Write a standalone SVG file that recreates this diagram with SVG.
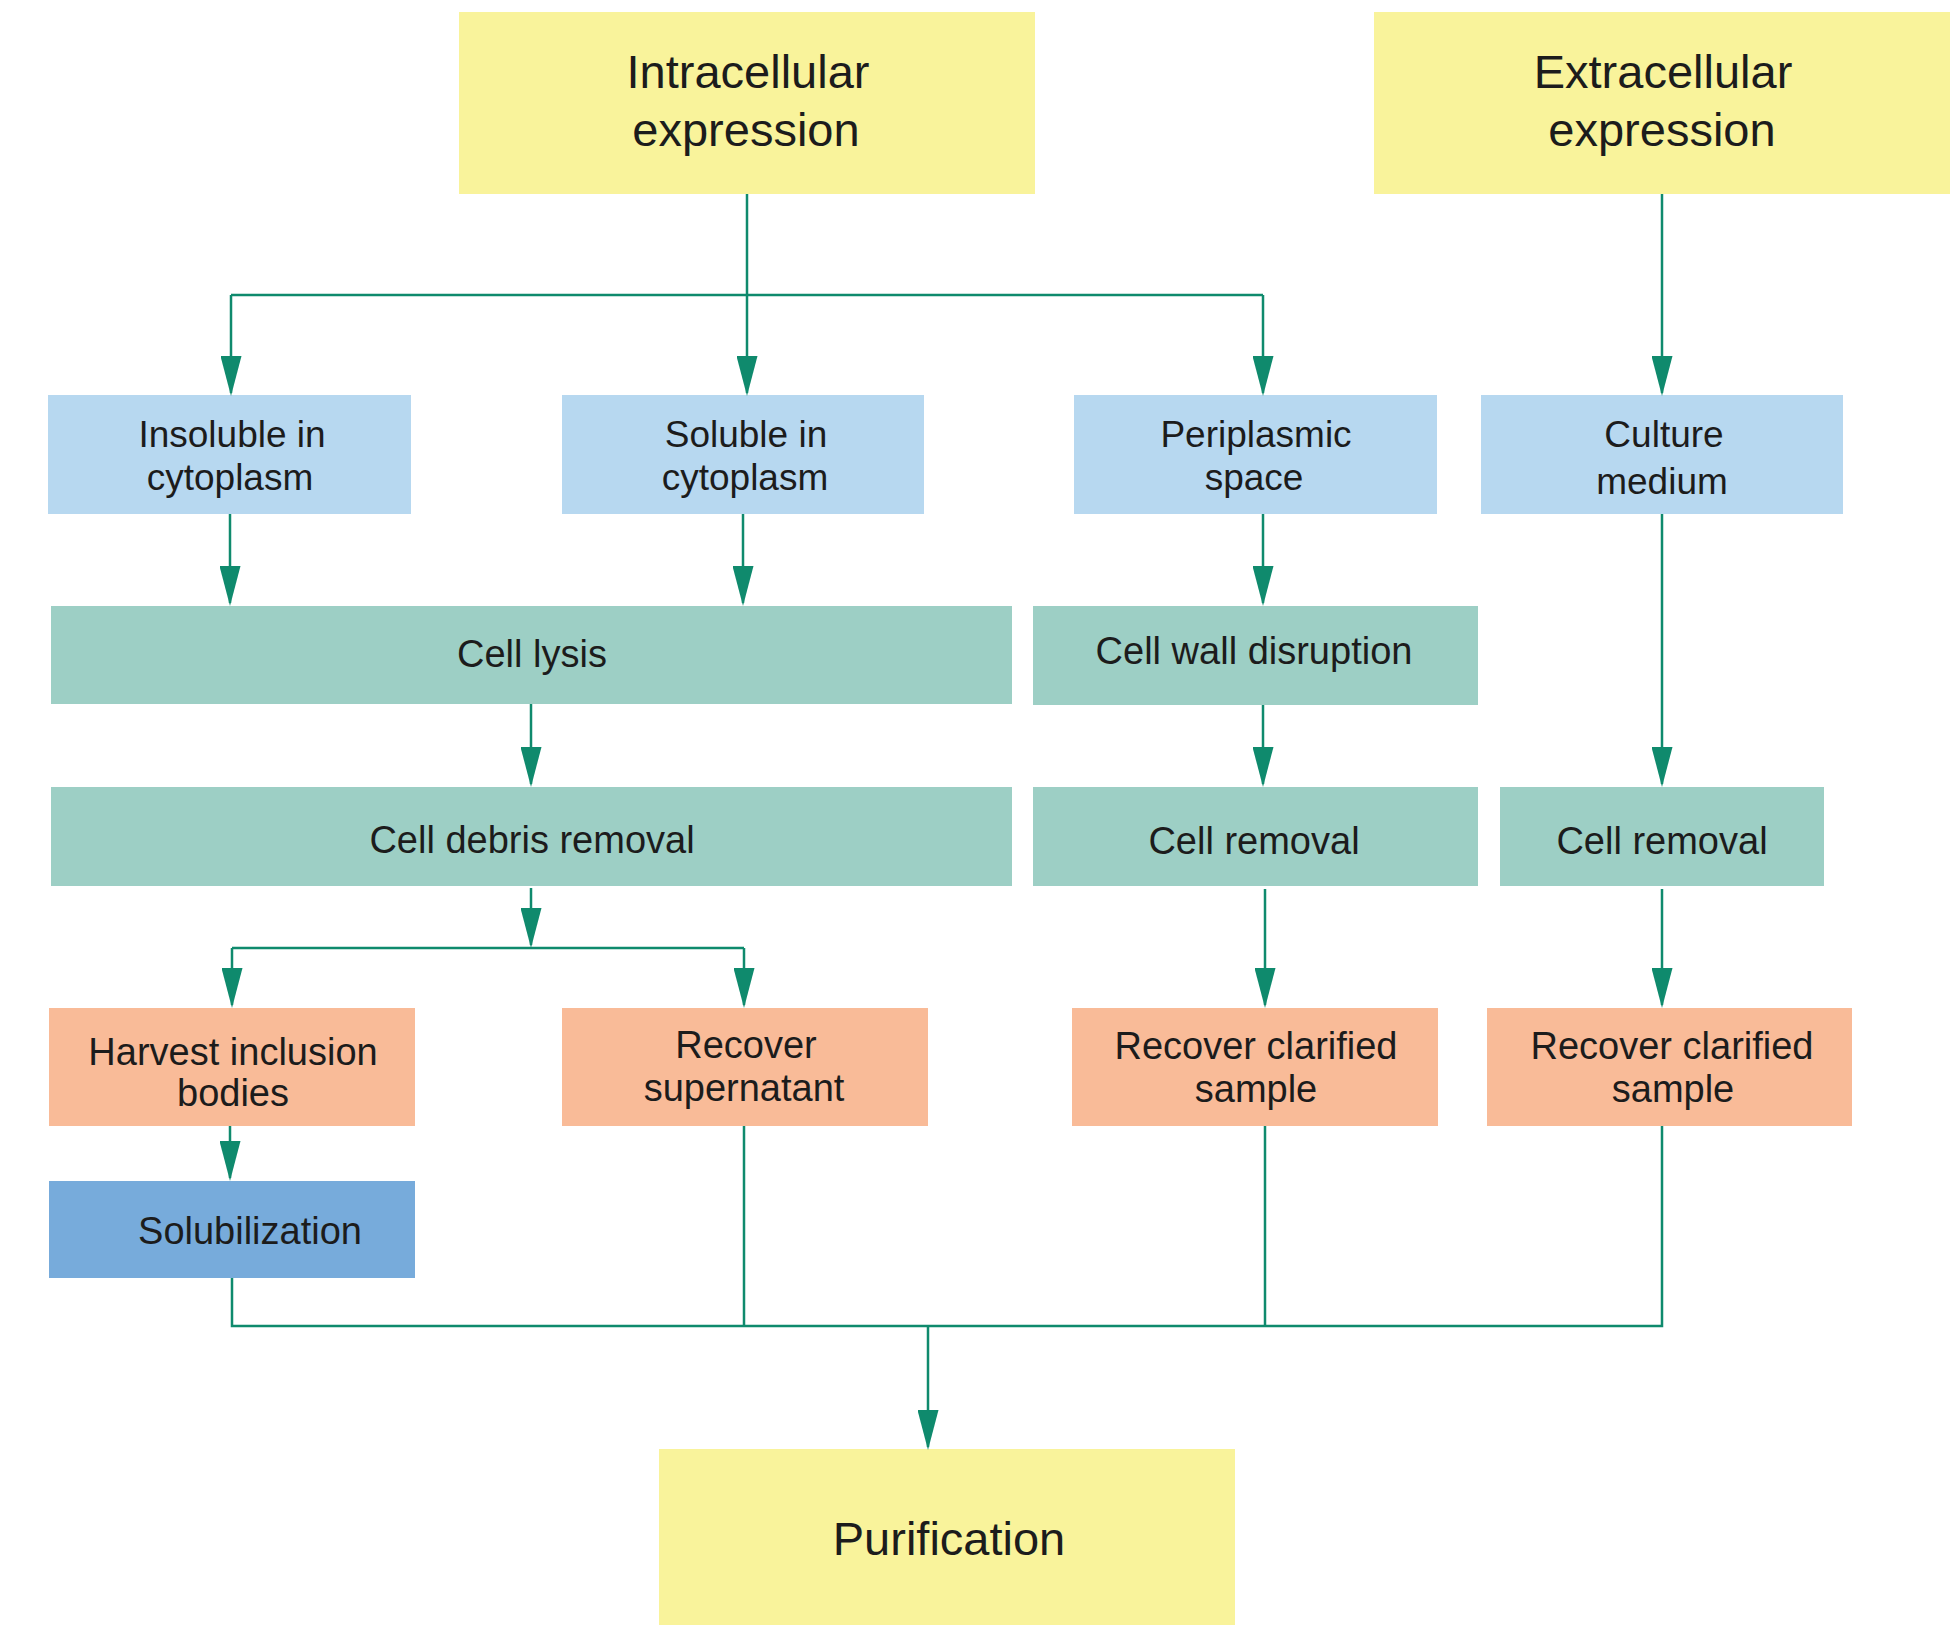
<svg xmlns="http://www.w3.org/2000/svg" width="1958" height="1625" viewBox="0 0 1958 1625">
<style>
  text { font-family: "Liberation Sans", Arial, sans-serif; fill: #1c1c1c; text-anchor: middle; }
  .big { font-size: 47px; }
  .mid { font-size: 37px; }
  .sm { font-size: 38px; }
  .yellow { fill: #f9f39b; }
  .blue { fill: #b7d8f0; }
  .teal { fill: #9dcfc5; }
  .salmon { fill: #f9bb98; }
  .dblue { fill: #77abdb; }
  .conn { fill: none; stroke: #0f8a6d; stroke-width: 2.5; }
  .conn path.a { marker-end: url(#arrow); }
</style>
<defs>
  <marker id="arrow" viewBox="0 0 40 21" refX="37" refY="10.5" markerWidth="40" markerHeight="21" markerUnits="userSpaceOnUse" orient="auto">
    <path d="M0,0 L40,10.5 L0,21 z" fill="#0f8a6d"/>
  </marker>
</defs>
<rect width="1958" height="1625" fill="#ffffff"/>

<g id="intracellular">
  <rect class="yellow" x="459" y="12" width="576" height="182"/>
  <text class="big" x="748" y="88">Intracellular</text>
  <text class="big" x="746" y="146">expression</text>
</g>
<g id="extracellular">
  <rect class="yellow" x="1374" y="12" width="576" height="182"/>
  <text class="big" x="1663" y="88">Extracellular</text>
  <text class="big" x="1662" y="146">expression</text>
</g>

<g id="insoluble">
  <rect class="blue" x="48" y="395" width="363" height="119"/>
  <text class="mid" x="232" y="447">Insoluble in</text>
  <text class="mid" x="230" y="490">cytoplasm</text>
</g>
<g id="soluble">
  <rect class="blue" x="562" y="395" width="362" height="119"/>
  <text class="mid" x="746" y="447">Soluble in</text>
  <text class="mid" x="745" y="490">cytoplasm</text>
</g>
<g id="periplasmic">
  <rect class="blue" x="1074" y="395" width="363" height="119"/>
  <text class="mid" x="1256" y="447">Periplasmic</text>
  <text class="mid" x="1254" y="490">space</text>
</g>
<g id="culture">
  <rect class="blue" x="1481" y="395" width="362" height="119"/>
  <text class="mid" x="1664" y="447">Culture</text>
  <text class="mid" x="1662" y="494">medium</text>
</g>

<g id="cell-lysis">
  <rect class="teal" x="51" y="606" width="961" height="98"/>
  <text class="sm" x="532" y="667">Cell lysis</text>
</g>
<g id="cell-wall-disruption">
  <rect class="teal" x="1033" y="606" width="445" height="99"/>
  <text class="sm" x="1254" y="664">Cell wall disruption</text>
</g>
<g id="cell-debris-removal">
  <rect class="teal" x="51" y="787" width="961" height="99"/>
  <text class="sm" x="532" y="853">Cell debris removal</text>
</g>
<g id="cell-removal-1">
  <rect class="teal" x="1033" y="787" width="445" height="99"/>
  <text class="sm" x="1254" y="854">Cell removal</text>
</g>
<g id="cell-removal-2">
  <rect class="teal" x="1500" y="787" width="324" height="99"/>
  <text class="sm" x="1662" y="854">Cell removal</text>
</g>

<g id="harvest">
  <rect class="salmon" x="49" y="1008" width="366" height="118"/>
  <text class="sm" x="233" y="1065">Harvest inclusion</text>
  <text class="sm" x="233" y="1106">bodies</text>
</g>
<g id="recover-supernatant">
  <rect class="salmon" x="562" y="1008" width="366" height="118"/>
  <text class="sm" x="746" y="1058">Recover</text>
  <text class="sm" x="744" y="1101">supernatant</text>
</g>
<g id="recover-clarified-1">
  <rect class="salmon" x="1072" y="1008" width="366" height="118"/>
  <text class="sm" x="1256" y="1059">Recover clarified</text>
  <text class="sm" x="1256" y="1102">sample</text>
</g>
<g id="recover-clarified-2">
  <rect class="salmon" x="1487" y="1008" width="365" height="118"/>
  <text class="sm" x="1672" y="1059">Recover clarified</text>
  <text class="sm" x="1673" y="1102">sample</text>
</g>

<g id="solubilization">
  <rect class="dblue" x="49" y="1181" width="366" height="97"/>
  <text class="sm" x="250" y="1244">Solubilization</text>
</g>

<g id="purification">
  <rect class="yellow" x="659" y="1449" width="576" height="176"/>
  <text class="big" x="949" y="1555">Purification</text>
</g>

<g id="connectors" class="conn">
  <path class="a" d="M747,194 V393"/>
  <path d="M231,295 H1263"/>
  <path class="a" d="M231,295 V393"/>
  <path class="a" d="M1263,295 V393"/>
  <path class="a" d="M1662,194 V393"/>
  <path class="a" d="M230,514 V603"/>
  <path class="a" d="M743,514 V603"/>
  <path class="a" d="M1263,514 V603"/>
  <path class="a" d="M1662,514 V784"/>
  <path class="a" d="M531,704 V784"/>
  <path class="a" d="M1263,705 V784"/>
  <path class="a" d="M531,888 V945"/>
  <path d="M232,948 H744"/>
  <path class="a" d="M232,948 V1005"/>
  <path class="a" d="M744,948 V1005"/>
  <path class="a" d="M1265,889 V1005"/>
  <path class="a" d="M1662,889 V1005"/>
  <path class="a" d="M230,1126 V1178"/>
  <path d="M232,1278 V1326 H1662 V1126"/>
  <path d="M744,1126 V1326"/>
  <path d="M1265,1126 V1326"/>
  <path class="a" d="M928,1326 V1447"/>
</g>
</svg>
